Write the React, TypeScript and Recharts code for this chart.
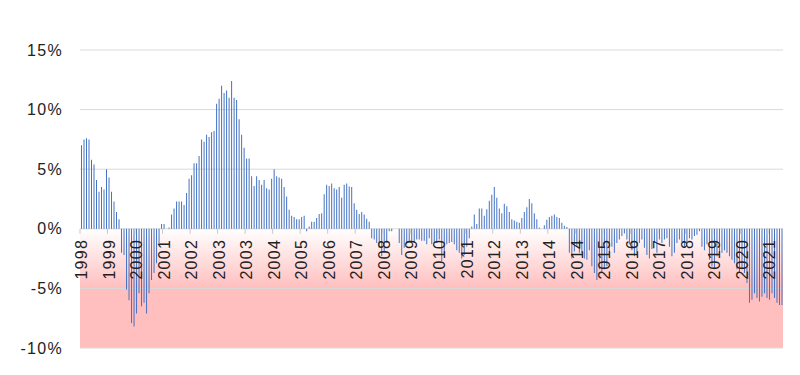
import React from 'react';
import { BarChart, Bar, XAxis, YAxis, CartesianGrid } from 'recharts';

// one label every 11 bars, as on the original axis
const yearLabels = [
  '1998', '1999', '2000', '2001', '2002', '2003', '2003', '2004', '2005', '2006',
  '2007', '2008', '2009', '2010', '2011', '2012', '2013', '2014', '2014', '2015',
  '2016', '2017', '2018', '2019', '2020', '2021',
];
const LABEL_EVERY = 11;

// year-on-year change, %
const growth = [
  7.0, 7.5, 7.6, 7.5, 5.8, 5.4, 4.1, 3.1, 3.5, 3.3, 5.0,
  4.3, 3.1, 2.3, 1.4, 0.8, -2.0, -2.2, -5.1, -6.0, -7.9, -8.2,
  -7.1, -5.4, -6.5, -6.2, -7.1, -5.4, -4.3, -3.7, -2.9, -1.2, 0.4,
  0.4, 0.0, 0.1, 1.2, 1.7, 2.3, 2.3, 2.3, 2.0, 3.0, 4.2,
  4.5, 5.5, 5.5, 6.1, 7.5, 7.3, 7.9, 7.7, 8.1, 8.2, 10.5,
  10.9, 12.0, 11.4, 11.6, 11.0, 12.4, 11.0, 10.8, 9.2, 7.9, 6.8,
  5.9, 5.9, 4.4, 3.6, 4.4, 4.1, 3.7, 4.1, 3.4, 3.3, 4.2,
  5.0, 4.4, 4.3, 4.2, 3.5, 2.7, 1.6, 1.1, 1.0, 0.8, 0.8,
  1.0, 1.1, -0.2, 0.2, 0.6, 0.6, 0.9, 1.25, 1.3, 2.9, 3.7,
  3.6, 3.8, 3.4, 3.3, 3.5, 2.6, 3.7, 3.8, 3.55, 3.5, 2.15,
  1.6, 1.25, 1.4, 1.2, 0.85, 0.6, -0.8, -0.9, -1.2, -1.6, -2.3,
  -2.0, -1.2, -0.2, -0.2, 0.0, 0.0, -1.2, -2.2, -1.6, -1.3, -1.1,
  -1.1, -1.1, -0.9, -0.9, -1.0, -1.0, -1.3, -0.8, -1.3, -1.2, -1.2,
  -0.9, -2.7, -2.0, -1.3, -1.2, -1.1, -1.3, -1.8, -2.0, -2.5, -2.2,
  -1.5, -0.8, 0.2, 1.2, 0.4, 1.7, 1.7, 1.1, 1.65, 2.35, 2.85,
  3.5, 2.6, 1.7, 1.3, 2.1, 1.9, 1.4, 0.8, 0.7, 0.6, 0.5,
  0.9, 1.4, 1.8, 2.5, 2.15, 1.3, 0.8, 0.1, 0.0, 0.3, 0.75,
  1.0, 1.1, 1.2, 1.0, 0.9, 0.5, 0.25, 0.15, -2.0, -2.5, -1.9,
  -1.5, -2.0, -2.0, -2.5, -2.6, -1.8, -3.15, -3.7, -4.3, -3.4, -3.7,
  -3.4, -3.15, -2.0, -1.5, -2.0, -1.2, -0.9, -0.6, -0.4, -0.9, -1.3,
  -1.8, -2.3, -2.0, -1.2, -0.9, -1.6, -2.2, -2.5, -1.7, -1.2, -2.0,
  -0.9, -1.2, -0.9, -0.8, -1.5, -2.3, -2.0, -1.2, -0.9, -1.1, -1.5,
  -1.1, -0.8, -0.9, -0.6, -0.5, -0.2, -1.5, -1.8, -1.3, -2.6, -3.15,
  -3.4, -2.3, -2.0, -2.0, -1.8, -2.0, -2.3, -2.6, -2.9, -3.4, -3.7,
  -3.4, -3.7, -4.55, -6.2, -5.95, -5.4, -5.8, -6.1, -5.7, -5.4, -5.8,
  -5.95, -5.4, -5.8, -6.2, -6.4, -6.4,
];

const yTicks = [-10, -5, 0, 5, 10, 15];

const W = 800;
const H = 375;
const TOP = 50;
const RIGHT = 17;
const Y_AXIS_W = 80;
const X_AXIS_H = 27;
const PLOT_W = W - Y_AXIS_W - RIGHT;
const PLOT_H = H - TOP - X_AXIS_H;
const Y_MIN = -10;
const Y_MAX = 15;
const ZERO_Y = TOP + (PLOT_H * Y_MAX) / (Y_MAX - Y_MIN);
const BAND = PLOT_W / growth.length;

const FONT = '"Liberation Sans", Arial, sans-serif';

const data = growth.map((v, i) => ({
  i,
  label: i % LABEL_EVERY === 0 ? yearLabels[i / LABEL_EVERY] : '',
  v,
}));

const YearTick = (props: any) => {
  const { x, payload } = props;
  const row = data[payload.value];
  if (!row || !row.label) return null;
  const tx = x - BAND / 2;
  return (
    <g>
      <line x1={tx} x2={tx} y1={ZERO_Y} y2={ZERO_Y + 5} stroke="#c8c8c8" />
      <text
        transform={`translate(${x + 6},${ZERO_Y + 10}) rotate(-90)`}
        textAnchor="end"
        fontFamily={FONT}
        fontSize={16}
        letterSpacing={1.3}
        fill="#222"
      >
        {row.label}
      </text>
    </g>
  );
};

export default function App() {
  return (
    <div style={{ position: 'absolute', left: 0, top: 0, width: W, height: H, background: '#fff' }}>
      <svg width={0} height={0} style={{ position: 'absolute' }}>
        <defs>
          <linearGradient id="negFade" x1="0" y1="0" x2="0" y2="1">
            <stop offset="0%" stopColor="#ffffff" />
            <stop offset="100%" stopColor="#ffbfbf" />
          </linearGradient>
        </defs>
      </svg>
      <BarChart
        width={W}
        height={H}
        data={data}
        margin={{ top: TOP, right: RIGHT, bottom: 0, left: 0 }}
        barCategoryGap={0}
      >
        <CartesianGrid
          vertical={false}
          stroke="#d9d9d9"
          horizontalFill={['none', 'none', 'none', 'url(#negFade)', '#ffbfbf', 'none']}
          fillOpacity={1}
        />
        <XAxis
          dataKey="i"
          type="category"
          interval={LABEL_EVERY - 1}
          height={X_AXIS_H}
          axisLine={false}
          tickLine={false}
          tick={<YearTick />}
        />
        <YAxis
          domain={[Y_MIN, Y_MAX]}
          ticks={yTicks}
          width={Y_AXIS_W}
          axisLine={false}
          tickLine={false}
          tickSize={0}
          tickMargin={17}
          tickFormatter={(v: number) => `${v}%`}
          tick={{ fontFamily: FONT, fontSize: 16, letterSpacing: 1.3, fill: '#222' }}
        />
        <Bar dataKey="v" fill="#4472C4" barSize={1} isAnimationActive={false} />
      </BarChart>
    </div>
  );
}
